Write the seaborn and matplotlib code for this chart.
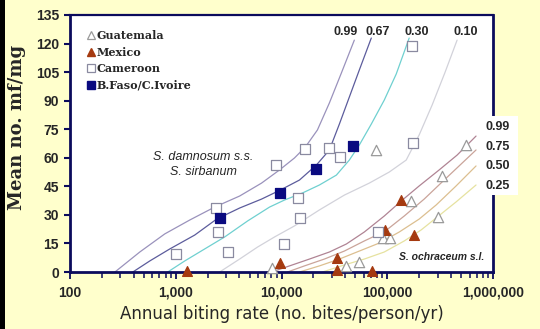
import numpy as np
import pandas as pd
import matplotlib
matplotlib.use("Agg")
import matplotlib.pyplot as plt
from matplotlib.patches import Rectangle
from matplotlib.lines import Line2D
import seaborn as sns

# ---------------- data ----------------
guat_x = [8220, 40800, 53500, 78200, 90400, 106000, 169000, 303000, 333000, 552000]
guat_y = [2.0, 3.3, 5.4, 64.0, 18.0, 17.7, 37.5, 28.7, 50.4, 66.7]

mex_x = [1280, 9730, 33300, 33300, 71600, 95700, 136000, 180000]
mex_y = [0.6, 4.7, 7.2, 1.0, 0.7, 22.0, 37.8, 19.4]

cam_x = [1000, 2420, 2530, 3090, 8900, 10660, 14300, 14800, 16800, 28400, 36000, 81100, 173000, 176000]
cam_y = [9.6, 33.5, 21.0, 10.3, 56.2, 14.5, 39.0, 28.2, 64.4, 65.3, 60.6, 21.2, 118.7, 67.9]

bf_x = [2640, 9730, 21200, 47700]
bf_y = [28.2, 41.7, 54.3, 66.2]

# S. damnosum s.s. / S. sirbanum curves
dam99_x = [266, 457, 787, 1356, 2333, 4017, 6477, 9575, 13265, 16840, 21860, 28370, 36810, 48830]
dam99_y = [0, 10.5, 20.0, 27.3, 34.1, 39.9, 46.7, 53.6, 59.9, 65.7, 74.6, 88.8, 104.5, 121.8]
dam67_x = [393, 568, 878, 1511, 2437, 4017, 6477, 9786, 14785, 21390, 28370, 35260, 43800, 54430, 70650]
dam67_y = [0, 5.8, 12.1, 19.4, 27.8, 33.6, 38.3, 43.1, 48.3, 56.2, 64.1, 77.7, 91.9, 106.1, 122.9]
dam30_x = [840, 1216, 1877, 2900, 4778, 7706, 10670, 15780, 22830, 33030, 43800, 54430, 70650, 93700, 121600, 161200]
dam30_y = [0, 5.8, 12.1, 18.4, 26.8, 34.1, 37.8, 41.5, 45.7, 50.9, 58.8, 66.7, 77.7, 90.3, 104.0, 122.9]
dam10_x = [2601, 4017, 5936, 8590, 13265, 22830, 39300, 67640, 104400, 151100, 200400, 265700, 352600, 457500]
dam10_y = [0, 6.8, 13.1, 18.4, 24.2, 32.6, 40.4, 46.7, 52.5, 58.8, 72.0, 87.7, 105.0, 121.8]

# S. ochraceum s.l. curves
och99_x = [8050, 11900, 18380, 28370, 41040, 60670, 93700, 135600, 200400, 309500, 457500, 691000]
och99_y = [0, 3.2, 6.8, 10.5, 14.7, 21.0, 29.4, 37.3, 45.2, 53.6, 61.4, 71.4]
och75_x = [11390, 16480, 25440, 39300, 60670, 95750, 144700, 223400, 330300, 477800, 691000]
och75_y = [0, 3.2, 6.8, 11.0, 16.3, 21.5, 29.4, 38.3, 47.3, 55.7, 64.1]
och50_x = [14785, 22830, 35260, 54430, 84030, 129800, 200400, 290000, 447600, 691000]
och50_y = [0, 3.2, 6.8, 11.0, 15.2, 21.0, 27.8, 35.2, 45.2, 55.7]
och25_x = [24370, 39300, 60670, 93700, 144700, 209300, 290000, 447600, 691000]
och25_y = [0, 3.7, 6.8, 10.5, 16.3, 22.1, 28.4, 36.8, 45.7]

dam_labels = ["0.99", "0.67", "0.30", "0.10"]
och_labels = ["0.99", "0.75", "0.50", "0.25"]
legend_labels = ["Guatemala", "Mexico", "Cameroon", "B.Faso/C.Ivoire"]
xtick_vals = [100, 1000, 10000, 100000, 1000000]
xtick_labels = ["100", "1,000", "10,000", "100,000", "1,000,000"]
ytick_vals = list(range(0, 136, 15))

# ---------------- style ----------------
sns.set_style("white")
NAVY = "#0b0b5c"
BG = "#ffffcc"

fig = plt.figure(figsize=(5.4, 3.29), dpi=100, facecolor=BG)
ax = fig.add_axes([70/540, 1-272/329, (493-70)/540, (272-15)/329])
ax.set_facecolor("white")

curves = [
    (dam99_x, dam99_y, "#9a92bc"),
    (dam67_x, dam67_y, "#5c5c9c"),
    (dam30_x, dam30_y, "#6fd0d0"),
    (dam10_x, dam10_y, "#d2d2da"),
    (och99_x, och99_y, "#b08494"),
    (och75_x, och75_y, "#caa49a"),
    (och50_x, och50_y, "#dcbf90"),
    (och25_x, och25_y, "#e6e2a0"),
]
for cx, cy, col in curves:
    df = pd.DataFrame({"abr": cx, "mf": cy})
    sns.lineplot(data=df, x="abr", y="mf", ax=ax, color=col, lw=0.9,
                 sort=False, estimator=None, zorder=2)

groups = [
    (guat_x, guat_y, "^", "white", "#9a9a9a", 55),
    (mex_x, mex_y, "^", "#a53a10", "#a53a10", 50),
    (cam_x, cam_y, "s", "white", "#8a8aa0", 55),
    (bf_x, bf_y, "s", "#0a0a80", "#0a0a80", 50),
]
for gx, gy, mk, fc, ec, s in groups:
    df = pd.DataFrame({"abr": gx, "mf": gy})
    sns.scatterplot(data=df, x="abr", y="mf", ax=ax, marker=mk, s=s,
                    color=fc, edgecolor=ec, linewidth=0.9, zorder=4, clip_on=False)

ax.set_xscale("log")
ax.set_xlim(100, 1e6)
ax.set_ylim(0, 135)
ax.set_xticks(xtick_vals)
ax.set_xticklabels(xtick_labels)
ax.set_yticks(ytick_vals)
ax.set_yticklabels([str(v) for v in ytick_vals])

for lab in ax.get_xticklabels() + ax.get_yticklabels():
    lab.set_fontfamily("Liberation Sans")
    lab.set_fontweight("bold")
    lab.set_fontsize(10)

ax.tick_params(axis="y", which="major", direction="out", length=4, width=1.5,
               color=NAVY, pad=4, left=True)
ax.tick_params(axis="x", which="major", direction="out", length=5, width=1.3,
               color=NAVY, pad=5, bottom=True)
ax.tick_params(axis="x", which="minor", direction="out", length=4, width=1.1,
               color=NAVY, bottom=True)

for side, w in [("left", 2.0), ("bottom", 2.0), ("top", 1.6), ("right", 2.0)]:
    ax.spines[side].set_color(NAVY)
    ax.spines[side].set_linewidth(w)
    ax.spines[side].set_visible(True)

ax.set_xlabel("Annual biting rate (no. bites/person/yr)", fontsize=12,
              fontfamily="DejaVu Sans", labelpad=4)
ax.set_ylabel("Mean no. mf/mg", fontsize=13, fontfamily="DejaVu Serif",
              fontweight="bold")
ax.yaxis.set_label_coords(-0.104, 0.562)

# curve labels (top)
top_pos_px = [346, 378, 417, 466]
for lab, px in zip(dam_labels, top_pos_px):
    fig.text(px/540, 1-31.7/329, lab, ha="center", va="center",
             fontsize=9, fontweight="bold", fontfamily="Liberation Sans")

# white box with ochraceum labels at right
fig.patches.append(Rectangle((477/540, 1-195/329), (518-477)/540, (195-116)/329,
                             transform=fig.transFigure, facecolor="white",
                             edgecolor="none", zorder=5))
for i, lab in enumerate(och_labels):
    fig.text(498/540, 1-(126.7+19.8*i)/329, lab, ha="center", va="center",
             fontsize=9, fontweight="bold", fontfamily="Liberation Sans", zorder=6)

# species annotations
fig.text(203/540, 1-157.3/329, "S. damnosum s.s.", ha="center", va="center",
         fontsize=9, fontstyle="italic", fontfamily="Liberation Sans")
fig.text(203/540, 1-172/329, "S. sirbanum", ha="center", va="center",
         fontsize=9, fontstyle="italic", fontfamily="Liberation Sans")
fig.text(442/540, 1-257.3/329, "S. ochraceum s.l.", ha="center", va="center",
         fontsize=7.5, fontstyle="italic", fontweight="bold", fontfamily="Liberation Sans")

# legend
handles = [
    Line2D([], [], ls="none", marker="^", markersize=6, markerfacecolor="white",
           markeredgecolor="#9a9a9a", markeredgewidth=0.9),
    Line2D([], [], ls="none", marker="^", markersize=6, markerfacecolor="#a53a10",
           markeredgecolor="#a53a10"),
    Line2D([], [], ls="none", marker="s", markersize=6, markerfacecolor="white",
           markeredgecolor="#8a8aa0", markeredgewidth=0.9),
    Line2D([], [], ls="none", marker="s", markersize=6, markerfacecolor="#0a0a80",
           markeredgecolor="#0a0a80"),
]
leg = ax.legend(handles, legend_labels, loc="upper left",
                bbox_to_anchor=((87-70)/423, (272-30)/257), frameon=False,
                handlelength=0.7, handletextpad=0.15, labelspacing=0.5,
                borderaxespad=0, borderpad=0,
                prop={"family": "DejaVu Serif", "weight": "bold", "size": 8})

# black strip at left edge
fig.patches.append(Rectangle((0, 0), 5/540, 1, transform=fig.transFigure,
                             facecolor="black", edgecolor="none", zorder=5))

fig.savefig("out.png", dpi=100, facecolor=BG)
